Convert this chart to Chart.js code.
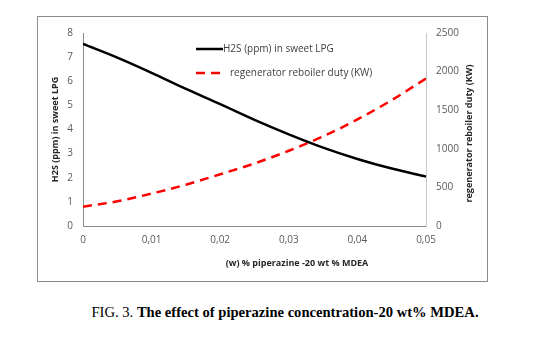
<!DOCTYPE html>
<html>
<head>
<meta charset="utf-8">
<script src="https://cdn.jsdelivr.net/npm/chart.js@4.4.1/dist/chart.umd.min.js"></script>
<style>
  body { margin: 0; background: #fff; width: 546px; height: 342px; position: relative; overflow: hidden; }
  #frame { position: absolute; left: 37px; top: 16px; width: 449px; height: 264px; border: 1px solid #8c8c8c; }
  #frame canvas { position: absolute; left: 0; top: 0; }
  #caption { position: absolute; left: 0; width: 546px; top: 304px; text-align: center; padding-left: 24px; box-sizing: border-box;
    font-family: "Liberation Serif", "Times New Roman", serif; font-size: 14.6px; color: #000; }
</style>
</head>
<body>
<div id="frame"><canvas id="myChart" width="449" height="264"></canvas></div>
<div id="caption">FIG. 3. <b>The effect of piperazine concentration-20 wt% MDEA.</b></div>
<script>
var piperazine = [0, 0.005, 0.01, 0.015, 0.02, 0.025, 0.03, 0.035, 0.04, 0.045, 0.05];
var h2sPpm = [7.55, 6.98, 6.35, 5.68, 5.05, 4.4, 3.8, 3.25, 2.78, 2.38, 2.05];
var reboilerDuty = [250, 320, 420, 535, 670, 810, 975, 1160, 1380, 1630, 1910];
var seriesNames = ["H2S (ppm) in sweet LPG", "regenerator reboiler duty (KW)"];
var xTitle = "(w) % piperazine -20 wt % MDEA";
var yTitle = "H2S (ppm) in sweet LPG";
var y1Title = "regenerator reboiler duty (KW)";

var tickColor = "#595959";
var fontFam = "'Open Sans', 'Liberation Sans', sans-serif";

function toPoints(xs, ys) {
  return xs.map(function (x, i) { return { x: x, y: ys[i] }; });
}

var extras = {
  id: "extras",
  afterDraw: function (chart) {
    var ctx = chart.ctx;
    var area = chart.chartArea;
    ctx.save();
    // legend
    var lx = 158, ly = 32;
    chart.data.datasets.forEach(function (ds, i) {
      var yy = ly + i * 24;
      ctx.beginPath();
      ctx.strokeStyle = ds.borderColor;
      ctx.lineWidth = 2.5;
      ctx.setLineDash(ds.borderDash || []);
      ctx.moveTo(lx, yy);
      ctx.lineTo(lx + 27, yy);
      ctx.stroke();
      ctx.setLineDash([]);
      ctx.fillStyle = "#404040";
      ctx.font = "10px " + fontFam;
      ctx.textBaseline = "middle";
      ctx.textAlign = "left";
      ctx.fillText(ds.label, lx + (i == 0 ? 27 : 34), yy);
    });
    // axis titles
    ctx.fillStyle = "#262626";
    ctx.font = "bold 9px " + fontFam;
    ctx.textAlign = "center";
    ctx.textBaseline = "middle";
    ctx.fillText(xTitle, 259, 246);
    ctx.save();
    ctx.translate(17, (area.top + area.bottom) / 2);
    ctx.rotate(-Math.PI / 2);
    ctx.fillText(yTitle, 0, 0);
    ctx.restore();
    ctx.save();
    ctx.translate(431, (area.top + area.bottom) / 2 + 4);
    ctx.rotate(-Math.PI / 2);
    ctx.fillText(y1Title, 0, 0);
    ctx.restore();
    ctx.restore();
  }
};

var ctx = document.getElementById("myChart").getContext("2d");
var myChart = new Chart(ctx, {
  type: "line",
  data: {
    datasets: [
      {
        label: seriesNames[0],
        data: toPoints(piperazine, h2sPpm),
        borderColor: "#000000",
        borderWidth: 2.5,
        pointRadius: 0,
        cubicInterpolationMode: "monotone",
        yAxisID: "y",
      },
      {
        label: seriesNames[1],
        data: toPoints(piperazine, reboilerDuty),
        borderColor: "#ff0000",
        borderWidth: 2.5,
        borderDash: [9, 6],
        pointRadius: 0,
        cubicInterpolationMode: "monotone",
        yAxisID: "y1",
      },
    ],
  },
  options: {
    responsive: false,
    animation: false,
    layout: { padding: { top: 16, left: 0, right: 0, bottom: 0 } },
    plugins: { legend: { display: false }, tooltip: { enabled: false } },
    scales: {
      x: {
        type: "linear",
        min: 0,
        max: 0.05,
        ticks: {
          stepSize: 0.01,
          color: tickColor,
          font: { family: fontFam, size: 10 },
          padding: 4,
          callback: function (v) { return v === 0 ? "0" : v.toFixed(2).replace(".", ","); },
        },
        grid: { display: false, drawTicks: true, tickLength: 4, color: "#8c8c8c" },
        border: { color: "#8c8c8c" },
        afterFit: function (s) { s.height = 55; },
      },
      y: {
        position: "left",
        min: 0,
        max: 8,
        ticks: { stepSize: 1, color: tickColor, font: { family: fontFam, size: 10 }, padding: 6 },
        grid: { display: false, tickLength: 4 },
        border: { color: "#8c8c8c" },
        afterFit: function (s) { s.width = 45; },
      },
      y1: {
        position: "right",
        min: 0,
        max: 2500,
        ticks: {
          stepSize: 500,
          color: tickColor,
          font: { family: fontFam, size: 10 },
          padding: 6,
          callback: function (v) { return String(v); },
        },
        grid: { display: false, tickLength: 4 },
        border: { color: "#c8c8c8" },
        afterFit: function (s) { s.width = 61; },
      },
    },
  },
  plugins: [extras],
});
</script>
</body>
</html>
